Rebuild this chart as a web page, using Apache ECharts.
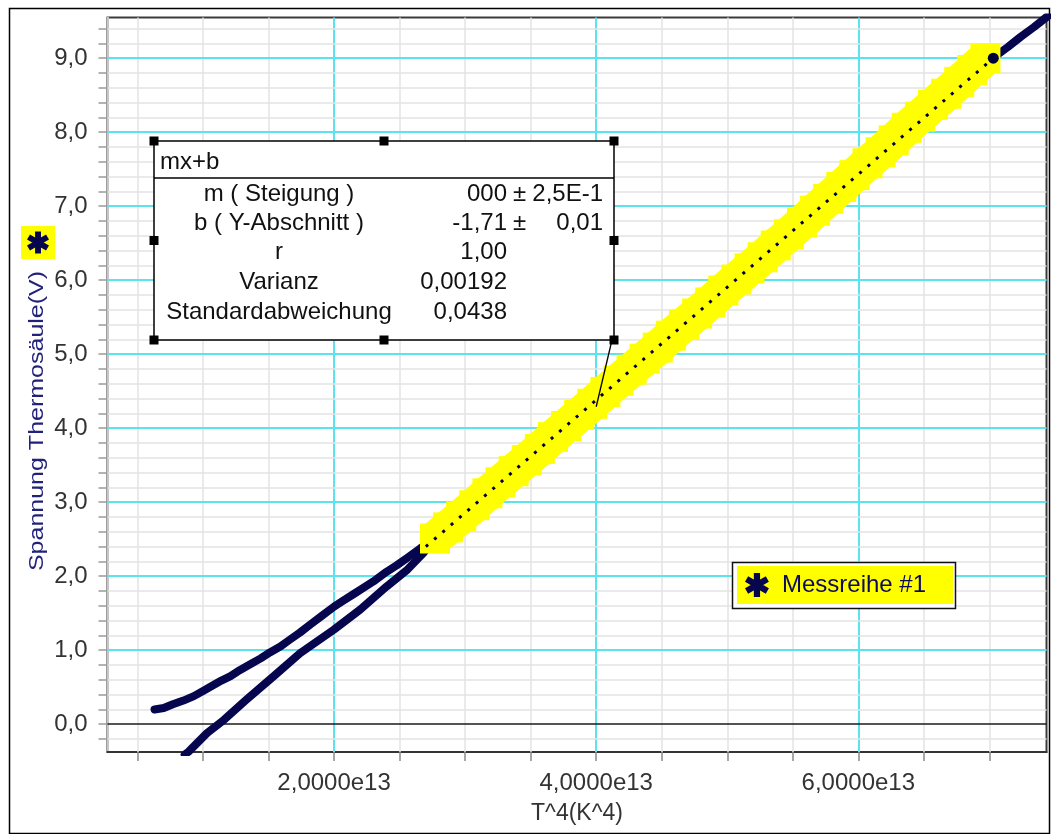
<!DOCTYPE html>
<html>
<head>
<meta charset="utf-8">
<script src="https://cdn.jsdelivr.net/npm/echarts@6/dist/echarts.min.js"></script>
<style>
html,body{margin:0;padding:0;background:#ffffff;}
#chart{width:1051px;height:834px;}
</style>
</head>
<body>
<div id="chart"></div>
<script>
// ---------------- DATA (x in units of 1e13 K^4, y in V) ----------------
// rising branch (upper, curved part)
const upperBranchX = [0.63, 0.70, 0.77, 0.85, 0.93, 1.00, 1.07, 1.14, 1.21, 1.28, 1.36, 1.44, 1.51, 1.59, 1.66, 1.74, 1.82, 1.91, 2.00, 2.07, 2.15, 2.22, 2.30, 2.40, 2.48, 2.56, 2.66];
const upperBranchY = [0.20, 0.22, 0.27, 0.32, 0.38, 0.45, 0.52, 0.59, 0.65, 0.73, 0.81, 0.89, 0.97, 1.05, 1.14, 1.24, 1.35, 1.47, 1.59, 1.67, 1.76, 1.84, 1.93, 2.06, 2.15, 2.25, 2.38];
// falling branch (lower, nearly straight part)
const lowerBranchX = [0.86, 0.89, 1.03, 1.16, 1.33, 1.54, 1.74, 2.00, 2.20, 2.40, 2.56, 2.68];
const lowerBranchY = [-0.41, -0.37, -0.12, 0.06, 0.33, 0.65, 0.96, 1.28, 1.55, 1.86, 2.09, 2.31];
// common straight section shared by both branches
const commonX = [2.77, 2.87, 2.97, 3.07, 3.17, 3.27, 3.37, 3.47, 3.57, 3.67, 3.77, 3.87, 3.97, 4.07, 4.17, 4.27, 4.37, 4.47, 4.57, 4.67, 4.77, 4.87, 4.97, 5.07, 5.17, 5.27, 5.37, 5.47, 5.57, 5.67, 5.77, 5.87, 5.97, 6.07, 6.17, 6.27, 6.37, 6.47, 6.57, 6.67, 6.77, 6.87, 6.97, 7.04, 7.14, 7.24, 7.34, 7.44, 7.54];
const commonY = [2.51, 2.66, 2.81, 2.96, 3.12, 3.27, 3.42, 3.57, 3.72, 3.88, 4.03, 4.18, 4.33, 4.49, 4.64, 4.79, 4.94, 5.09, 5.25, 5.40, 5.55, 5.70, 5.86, 6.01, 6.16, 6.31, 6.47, 6.62, 6.78, 6.94, 7.10, 7.26, 7.42, 7.58, 7.73, 7.89, 8.06, 8.21, 8.37, 8.52, 8.68, 8.84, 9.00, 9.02, 9.15, 9.29, 9.42, 9.56, 9.70];
// selected (highlighted) range used for the fit
const selectionRange = [2.77, 6.97];
// fit line mx+b drawn over the selection
const fitLineX = [2.70, 7.03];
const fitLineY = [2.40, 9.00];
const calloutAnchor = [4.00, 4.29];

const seriesName = 'Messreihe #1';
const xAxisName = 'T^4(K^4)';
const yAxisName = 'Spannung Thermosäule(V)';
const xRange = [0.271, 7.436];
const yRange = [-0.375, 9.55];
const xTickValues = [0.5, 1.0, 1.5, 2.0, 2.5, 3.0, 3.5, 4.0, 4.5, 5.0, 5.5, 6.0, 6.5, 7.0];
const xLabelValues = [2, 4, 6];
const yLabelValues = [0, 1, 2, 3, 4, 5, 6, 7, 8, 9];
const yMinorStep = 0.2;

const statsTitle = 'mx+b';
const statsLabels = ['m ( Steigung )', 'b ( Y-Abschnitt )', 'r', 'Varianz', 'Standardabweichung'];
const statsValues = ['000', '-1,71', '1,00', '0,00192', '0,0438'];
const statsPlusMinus = ['±', '±', '', '', ''];
const statsErrors = ['2,5E-1', '0,01', '', '', ''];

// ---------------- STYLE ----------------
const FONT = '"Liberation Sans", Arial, sans-serif';
const NAVY = '#06064f';
const YELLOW = '#ffff00';
const CYAN = '#5be3ee';
const GRAYGRID = '#e3e3e3';
const ASTERISK = 'M37 0L63 0L63 100L37 100Z M86.8 86.26L0.2 36.26L13.2 13.74L99.8 63.74Z M13.2 86.26L0.2 63.74L86.8 13.74L99.8 36.26Z';

const zip = (xs, ys) => xs.map((x, i) => [x, ys[i]]);
const upperData = zip(upperBranchX, upperBranchY).concat(zip(commonX, commonY));
const lowerData = zip(lowerBranchX, lowerBranchY).concat([[commonX[0], commonY[0]]]);
const selectedData = zip(commonX, commonY).filter(p => p[0] >= selectionRange[0] - 1e-9 && p[0] <= selectionRange[1] + 1e-9);

// y minor ticks / gridlines
const yTickValues = [];
for (let k = Math.ceil(yRange[0] / yMinorStep); k * yMinorStep <= yRange[1]; k++) {
  yTickValues.push(Math.round(k * yMinorStep * 10) / 10);
}

const gridLines = [];
xTickValues.forEach(v => {
  const major = xLabelValues.indexOf(v) >= 0;
  gridLines.push({xAxis: v, lineStyle: {color: major ? CYAN : GRAYGRID, width: major ? 2 : 1.5, type: 'solid'}});
});
yTickValues.forEach(v => {
  if (v === 0) {
    gridLines.push({yAxis: v, lineStyle: {color: '#1a1a1a', width: 1.6, type: 'solid'}});
  } else {
    const major = Math.abs(v - Math.round(v)) < 1e-9;
    gridLines.push({yAxis: v, lineStyle: {color: major ? CYAN : GRAYGRID, width: major ? 2 : 1.5, type: 'solid'}});
  }
});

const fmtY = v => v.toFixed(1).replace('.', ',');
const fmtX = v => v.toFixed(4).replace('.', ',') + 'e13';

// asterisk built from three rotated bars
function asteriskGroup(cx, cy, size, color, z) {
  const w = size * 0.27;
  return {type: 'group', x: cx, y: cy, z: z, silent: true, children: [0, Math.PI / 3, -Math.PI / 3].map(r => ({
    type: 'rect', rotation: r, z: z, shape: {x: -w / 2, y: -size / 2, width: w, height: size}, style: {fill: color}
  }))};
}

// ---------------- stats box graphic ----------------
const box = {x: 154, y: 141, w: 460, h: 199};
const rowYs = [194, 223, 252, 282, 312];
const boxChildren = [
  {type: 'rect', z: 50, shape: {x: box.x, y: box.y, width: box.w, height: box.h}, style: {fill: '#ffffff', stroke: '#000000', lineWidth: 1.5}},
  {type: 'line', z: 51, shape: {x1: box.x, y1: 178, x2: box.x + box.w, y2: 178}, style: {stroke: '#000000', lineWidth: 1.5}},
  {type: 'text', z: 51, x: 160, y: 162, style: {text: statsTitle, font: '24px ' + FONT, fill: '#111111', align: 'left', verticalAlign: 'middle'}}
];
statsLabels.forEach((t, i) => {
  boxChildren.push({type: 'text', z: 51, x: 279, y: rowYs[i], style: {text: t, font: '24px ' + FONT, fill: '#111111', align: 'center', verticalAlign: 'middle'}});
  boxChildren.push({type: 'text', z: 51, x: 507, y: rowYs[i], style: {text: statsValues[i], font: '24px ' + FONT, fill: '#111111', align: 'right', verticalAlign: 'middle'}});
  if (statsPlusMinus[i]) boxChildren.push({type: 'text', z: 51, x: 513, y: rowYs[i], style: {text: statsPlusMinus[i], font: '24px ' + FONT, fill: '#111111', align: 'left', verticalAlign: 'middle'}});
  if (statsErrors[i]) boxChildren.push({type: 'text', z: 51, x: 603, y: rowYs[i], style: {text: statsErrors[i], font: '24px ' + FONT, fill: '#111111', align: 'right', verticalAlign: 'middle'}});
});
const handles = [[box.x, box.y], [box.x + box.w / 2, box.y], [box.x + box.w, box.y],
                 [box.x, box.y + box.h / 2], [box.x + box.w, box.y + box.h / 2],
                 [box.x, box.y + box.h], [box.x + box.w / 2, box.y + box.h], [box.x + box.w, box.y + box.h]];
handles.forEach(h => {
  boxChildren.push({type: 'rect', z: 52, shape: {x: h[0] - 4.5, y: h[1] - 4.5, width: 9, height: 9}, style: {fill: '#000000'}});
});

const option = {
  animation: false,
  backgroundColor: '#ffffff',
  grid: {left: 107.5, top: 17.5, right: 4.5, bottom: 82, show: true, borderColor: '#3c3c3c', borderWidth: 2, backgroundColor: 'transparent', outerBoundsMode: 'none'},
  xAxis: {
    type: 'value', min: xRange[0], max: xRange[1],
    name: xAxisName, nameLocation: 'middle', nameGap: 50,
    nameTextStyle: {fontSize: 23, fontFamily: FONT, color: '#333333'},
    axisLine: {show: true, onZero: false, lineStyle: {color: '#333333', width: 2}},
    axisTick: {show: true, customValues: xTickValues, length: 9, lineStyle: {color: '#8a8a8a', width: 1.5}},
    axisLabel: {customValues: xLabelValues, formatter: fmtX, fontSize: 24, fontFamily: FONT, color: '#333333', margin: 19},
    splitLine: {show: false}
  },
  yAxis: {
    type: 'value', min: yRange[0], max: yRange[1],
    axisLine: {show: true, onZero: false, lineStyle: {color: '#c6c6c6', width: 2}},
    axisTick: {show: true, customValues: yTickValues, length: 9, lineStyle: {color: '#9a9a9a', width: 1.5}},
    axisLabel: {customValues: yLabelValues, formatter: fmtY, fontSize: 24, fontFamily: FONT, color: '#333333', margin: 20},
    splitLine: {show: false}
  },
  legend: {
    show: true, selectedMode: false, left: 737, top: 566, z: 20,
    backgroundColor: YELLOW, padding: [7, 27, 7, 8],
    itemWidth: 24, itemHeight: 24,
    data: [{name: seriesName, icon: 'path://' + ASTERISK, itemStyle: {color: NAVY}}],
    textStyle: {fontSize: 24, fontFamily: FONT, color: '#0b0b5e', padding: [0, 0, 0, 8], lineHeight: 24}
  },
  series: [
    {type: 'line', name: '_grid', data: [], z: 1, silent: true,
     markLine: {z: 1, silent: true, symbol: ['none', 'none'], label: {show: false}, emphasis: {disabled: true}, animation: false, data: gridLines}},
    {type: 'line', name: seriesName, data: upperData, z: 3, showSymbol: false, silent: true,
     itemStyle: {color: NAVY}, lineStyle: {color: NAVY, width: 8, cap: 'round', join: 'round'}},
    {type: 'line', name: seriesName, data: lowerData, z: 3, showSymbol: false, silent: true,
     itemStyle: {color: NAVY}, lineStyle: {color: NAVY, width: 8, cap: 'round', join: 'round'}},
    {type: 'line', name: '_selectionBand', data: selectedData, z: 4, showSymbol: false, silent: true,
     itemStyle: {color: YELLOW}, lineStyle: {color: YELLOW, width: 35, cap: 'butt', join: 'round'}},
    {type: 'scatter', name: '_selection', data: selectedData, z: 4, silent: true,
     symbol: 'rect', symbolSize: 30, itemStyle: {color: YELLOW, opacity: 1, borderWidth: 0}},
    {type: 'line', name: '_fit', z: 5, silent: true, showSymbol: true,
     data: [{value: [fitLineX[0], fitLineY[0]], symbol: 'none'}, {value: [fitLineX[1], fitLineY[1]], symbol: 'circle', symbolSize: 11}],
     itemStyle: {color: '#00003a'}, lineStyle: {color: '#00003a', width: 3, type: [3, 8], cap: 'butt'}}
  ],
  graphic: {elements: [
    {type: 'rect', silent: true, z: 0, shape: {x: 9.5, y: 8.5, width: 1040, height: 825}, style: {fill: 'none', stroke: '#000000', lineWidth: 1.5}},
    {type: 'rect', silent: true, z: 19, shape: {x: 732.5, y: 562.5, width: 223, height: 46}, style: {fill: '#ffffff', stroke: '#111111', lineWidth: 1.5}},
    {type: 'rect', silent: true, z: 10, shape: {x: 21, y: 226, width: 34, height: 33}, style: {fill: YELLOW}},
    asteriskGroup(38, 242.5, 22, NAVY, 11),
    {type: 'text', silent: true, z: 10, x: 37, y: 421, rotation: Math.PI / 2, scaleX: 1.25,
     style: {text: yAxisName, font: '20px ' + FONT, fill: '#22227a', align: 'center', verticalAlign: 'middle'}},
    {type: 'group', id: 'statsBox', silent: true, z: 50, children: boxChildren}
  ]}
};

const chart = echarts.init(document.getElementById('chart'), null, {renderer: 'canvas'});
chart.setOption(option);
const anchorPx = chart.convertToPixel({gridIndex: 0}, calloutAnchor);
chart.setOption({graphic: {elements: [
  {type: 'line', id: 'callout', silent: true, z: 49,
   shape: {x1: box.x + box.w - 2, y1: box.y + box.h, x2: anchorPx[0], y2: anchorPx[1]},
   style: {stroke: '#000000', lineWidth: 1.3}}
]}});
</script>
</body>
</html>
